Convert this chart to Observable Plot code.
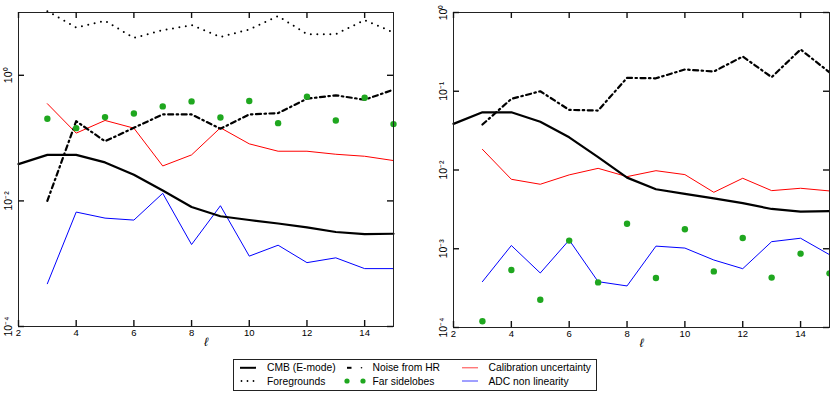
<!DOCTYPE html>
<html><head><meta charset="utf-8">
<script src="https://cdn.jsdelivr.net/npm/d3@7"></script>
<script src="https://cdn.jsdelivr.net/npm/@observablehq/plot@0.6"></script>
<style>
body{margin:0;background:#fff;}
#wrap{position:relative;width:830px;height:393px;font-family:"Liberation Sans",Arial,sans-serif;background:#fff;}
.panel{position:absolute;top:0;}
</style></head><body><div id="wrap"></div>
<script>
// multipoles
const ellAll = [2,3,4,5,6,7,8,9,10,11,12,13,14,15];
const ellS   = [3,4,5,6,7,8,9,10,11,12,13,14,15];
const xTicks = [2,4,6,8,10,12,14];

// CMB E-mode (same in both panels), l = 2..15
const cmb = [0.0385,0.054,0.054,0.041,0.026,0.0146,0.0080,0.0057,0.00497,0.00437,0.0038,0.0032,0.00296,0.0030];

// Left panel, l = 3..15
const fgL    = [10.5,5.78,7.37,3.94,5.23,6.29,4.09,5.37,8.76,4.52,4.52,7.56,4.81];
const noiseL = [0.010,0.186,0.089,0.146,0.238,0.238,0.141,0.238,0.25,0.424,0.48,0.408,0.59];
const calL   = [0.353,0.12,0.191,0.144,0.036,0.054,0.146,0.081,0.0618,0.0618,0.0553,0.0514,0.0439];
const sideL  = [0.203,0.144,0.216,0.247,0.32,0.384,0.213,0.389,0.173,0.457,0.191,0.44,0.167];
const adcL   = [0.00048,0.00664,0.00532,0.00495,0.0132,0.00202,0.00838,0.00132,0.00197,0.00104,0.00124,0.000835,0.000835];

// Right panel, l = 3..15
const noiseR = [0.0378,0.08,0.1,0.058,0.0569,0.148,0.146,0.189,0.178,0.276,0.151,0.339,0.174];
const calR   = [0.0183,0.00762,0.00659,0.00867,0.0105,0.00824,0.0098,0.00874,0.00521,0.00785,0.00547,0.00586,0.00542];
const sideR  = [0.00012,0.000537,0.000225,0.00127,0.000374,0.00208,0.000426,0.00177,0.000516,0.00137,0.00043,0.000867,0.000487];
const adcR   = [0.000382,0.0011,0.000492,0.00129,0.000382,0.000337,0.00108,0.00102,0.00072,0.000558,0.00123,0.00136,0.000841];

const yTicksL = [1e-4,1e-2,1];
const yTicksR = [1e-4,1e-3,1e-2,1e-1,1];

const legendItems = [
  {label:"CMB (E-mode)", kind:"cmb"},
  {label:"Noise from HR", kind:"noise"},
  {label:"Calibration uncertainty", kind:"cal"},
  {label:"Foregrounds", kind:"fg"},
  {label:"Far sidelobes", kind:"side"},
  {label:"ADC non linearity", kind:"adc"}
];

const GREEN = "#1fa71f";
const supMap = {"-":"\u207B","0":"\u2070","1":"\u00B9","2":"\u00B2","3":"\u00B3","4":"\u2074"};
const fmtPow = v => "10" + String(Math.round(Math.log10(v))).split("").map(c => supMap[c]).join("");
const TS = 6;
const H = 350, MT = 12;

function panel({width, marginLeft, marginRight, marginBottom, yDomain, yTicks, series}) {
  const pw = width - marginLeft - marginRight;
  const ph = H - MT - marginBottom;
  const tk = {stroke:"#111", strokeWidth:1.4};
  const marks = [
    ...series,
    Plot.frame({stroke:"#222", strokeWidth:1}),
    // inward tick marks
    Plot.tickX(xTicks, {x:d=>d, insetTop:ph-TS, ...tk}),
    Plot.tickX(xTicks, {x:d=>d, insetBottom:ph-TS, ...tk}),
    Plot.ruleY(yTicks, {y:d=>d, insetRight:pw-TS, ...tk}),
    Plot.ruleY(yTicks, {y:d=>d, insetLeft:pw-TS, ...tk}),
    // labels
    Plot.axisX({anchor:"bottom", ticks:xTicks, tickSize:0, tickPadding:3, tickFormat:d=>String(d), fontSize:9.5, label:null}),
    Plot.axisY({anchor:"left", ticks:yTicks, tickSize:0, tickPadding:7, tickRotate:-90, tickFormat:fmtPow, fontSize:10.5, label:null}),
    Plot.text(["\u2113"], {frameAnchor:"bottom", dy:19, fontSize:12, fontStyle:"italic", fill:"#000"})
  ];
  return Plot.plot({
    width, height:H, marginLeft, marginRight, marginTop:MT, marginBottom,
    style:{fontFamily:"Liberation Sans, Arial, sans-serif", background:"transparent", color:"#000"},
    x:{type:"linear", domain:[2,15]},
    y:{type:"log", domain:yDomain},
    marks
  });
}

const noiseStyle = {stroke:"#000", strokeWidth:2.2, strokeDasharray:"5,3.5,1.5,3.5"};

const left = panel({
  width:415, marginLeft:18, marginRight:22, marginBottom:24,
  yDomain:[1e-4,10], yTicks:yTicksL,
  series:[
    Plot.line(d3.zip(ellS, fgL), {stroke:"#000", strokeWidth:2, strokeDasharray:"0,6.5", strokeLinecap:"round"}),
    Plot.line(d3.zip(ellS, adcL), {stroke:"#0000ff", strokeWidth:1}),
    Plot.line(d3.zip(ellS, calL), {stroke:"#ff0000", strokeWidth:1}),
    Plot.line(d3.zip(ellAll, cmb), {stroke:"#000", strokeWidth:2.2}),
    Plot.line(d3.zip(ellS, noiseL), noiseStyle),
    Plot.dot(d3.zip(ellS, sideL), {r:3.2, fill:GREEN, stroke:null})
  ]
});
const right = panel({
  width:410, marginLeft:33, marginRight:1, marginBottom:23,
  yDomain:[1e-4,1], yTicks:yTicksR,
  series:[
    Plot.line(d3.zip(ellS, adcR), {stroke:"#0000ff", strokeWidth:1}),
    Plot.line(d3.zip(ellS, calR), {stroke:"#ff0000", strokeWidth:1}),
    Plot.line(d3.zip(ellAll, cmb), {stroke:"#000", strokeWidth:2.2}),
    Plot.line(d3.zip(ellS, noiseR), noiseStyle),
    Plot.dot(d3.zip(ellS, sideR), {r:3.2, fill:GREEN, stroke:null})
  ]
});

const wrap = document.getElementById("wrap");
left.classList.add("panel"); left.style.left = "0px";
right.classList.add("panel"); right.style.left = "420px";
wrap.appendChild(left); wrap.appendChild(right);

// Legend
const lg = document.createElement("div");
lg.style.cssText = "position:absolute;left:233px;top:359px;width:364px;height:32px;border:1px solid #222;box-sizing:border-box;background:#fff;";
wrap.appendChild(lg);
const svg = d3.select(lg).append("svg").attr("width",362).attr("height",30).style("display","block");
const colX = [6, 113, 228];
const textX = [33, 138.5, 254.5];
const rowY = [7.8, 21];
legendItems.forEach((it, i) => {
  const c = i % 3, r = Math.floor(i / 3);
  const x0 = colX[c], y = rowY[r];
  const g = svg.append("g");
  if (it.kind === "cmb") g.append("line").attr("x1",x0).attr("x2",x0+16).attr("y1",y).attr("y2",y).attr("stroke","#000").attr("stroke-width",2);
  if (it.kind === "fg") [0,6,12].forEach(d => g.append("circle").attr("cx",x0+1.5+d).attr("cy",y).attr("r",0.9).attr("fill","#000"));
  if (it.kind === "noise") { g.append("line").attr("x1",x0).attr("x2",x0+4.5).attr("y1",y).attr("y2",y).attr("stroke","#000").attr("stroke-width",2); g.append("circle").attr("cx",x0+14.5).attr("cy",y).attr("r",0.8).attr("fill","#000"); }
  if (it.kind === "side") [0,16].forEach(d => g.append("circle").attr("cx",x0+d).attr("cy",y).attr("r",2.6).attr("fill",GREEN));
  if (it.kind === "cal") g.append("line").attr("x1",x0).attr("x2",x0+16).attr("y1",y).attr("y2",y).attr("stroke","#ff4040").attr("stroke-width",1);
  if (it.kind === "adc") g.append("line").attr("x1",x0).attr("x2",x0+16).attr("y1",y).attr("y2",y).attr("stroke","#4040ff").attr("stroke-width",1);
  g.append("text").attr("x",textX[c]).attr("y",y).attr("dy","0.35em").attr("font-size","10.3px").attr("font-family","Liberation Sans, Arial, sans-serif").attr("fill","#000").text(it.label);
});
</script></body></html>
